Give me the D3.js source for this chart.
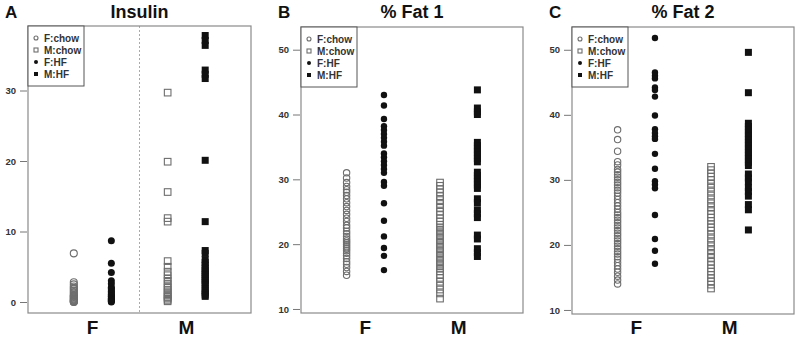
<!DOCTYPE html>
<html>
<head>
<meta charset="utf-8">
<script src="https://cdn.jsdelivr.net/npm/d3@7"></script>
<style>
  body { margin: 0; background: #fff; }
  svg { font-family: "Liberation Sans", Arial, sans-serif; font-weight: bold; }
</style>
</head>
<body>
<svg id="chart" width="800" height="340"></svg>
<script>
//Data
const groups = ["F:chow", "F:HF", "M:chow", "M:HF"];
const sexLabels = ["F", "M"];

const insulinFchow = [6.9, 2.8, 2.5, 2.2, 2.0, 1.8, 1.6, 1.4, 1.2, 1.0, 0.9, 0.8, 0.7, 0.6, 0.5, 0.4, 0.3, 0.2, 0.1, 0.1, 0.0, 0.0];
const insulinFHF = [8.7, 5.5, 4.2, 3.0, 2.6, 2.1, 1.9, 1.7, 1.5, 1.3, 1.1, 0.9, 0.8, 0.6, 0.5, 0.4, 0.3, 0.2, 0.1, 0.0];
const insulinMchow = [29.7, 19.9, 15.6, 11.9, 11.4, 5.8, 5.0, 4.3, 3.8, 3.3, 3.0, 2.6, 2.2, 2.0, 1.7, 1.4, 1.1, 0.9, 0.7, 0.5, 0.3, 0.1];
const insulinMHF = [37.8, 37.1, 36.4, 32.9, 32.3, 31.7, 20.1, 11.4, 7.3, 6.9, 6.0, 5.6, 5.2, 4.8, 4.5, 4.2, 3.9, 3.6, 3.3, 3.0, 2.7, 2.4, 1.9, 1.6, 1.3, 1.0, 0.8];

const fat1Fchow = [31.0, 30.2, 29.5, 28.9, 28.4, 28.0, 27.5, 27.0, 26.4, 25.8, 25.2, 24.6, 24.0, 23.5, 22.9, 22.5, 22.0, 21.6, 21.2, 20.8, 20.5, 20.2, 19.9, 19.6, 19.3, 19.0, 18.6, 18.2, 17.8, 17.3, 16.9, 16.4, 15.8, 15.2];
const fat1FHF = [43.0, 41.4, 39.3, 38.2, 37.6, 37.0, 36.4, 35.8, 35.2, 34.0, 33.4, 32.8, 32.2, 31.6, 31.0, 29.6, 29.0, 26.3, 23.6, 21.2, 19.4, 18.2, 16.0];
const fat1Mchow = [29.5, 29.0, 28.5, 28.0, 27.4, 26.8, 26.2, 25.6, 25.0, 24.5, 24.0, 23.5, 23.0, 22.6, 22.2, 21.8, 21.4, 21.0, 20.6, 20.2, 19.8, 19.4, 19.0, 18.6, 18.2, 17.8, 17.4, 17.0, 16.6, 16.2, 15.8, 15.3, 14.8, 14.2, 13.6, 13.0, 12.4, 11.6];
const fat1MHF = [43.8, 41.0, 40.4, 40.0, 35.7, 35.2, 34.7, 34.2, 33.7, 33.2, 32.7, 31.1, 30.6, 30.1, 29.6, 29.1, 28.6, 27.0, 26.4, 25.3, 24.7, 24.1, 21.4, 20.8, 19.3, 18.7, 18.1];

const fat2Fchow = [37.7, 36.2, 34.4, 32.8, 32.3, 31.6, 31.2, 30.8, 30.4, 30.0, 29.6, 29.2, 28.8, 28.4, 28.0, 27.5, 27.0, 26.5, 26.0, 25.5, 25.0, 24.6, 24.2, 23.8, 23.4, 23.0, 22.6, 22.2, 21.8, 21.4, 21.0, 20.6, 20.2, 19.8, 19.4, 19.0, 18.6, 18.2, 17.8, 17.3, 16.8, 16.3, 15.8, 15.2, 14.6, 14.0];
const fat2FHF = [51.8, 46.5, 46.0, 45.6, 44.2, 43.8, 42.8, 39.9, 37.8, 37.2, 36.7, 36.3, 34.0, 31.7, 29.8, 29.3, 28.7, 24.6, 20.9, 19.1, 17.1];
const fat2Mchow = [32.0, 31.5, 31.0, 30.5, 30.0, 29.4, 28.8, 28.2, 27.6, 27.0, 26.4, 25.8, 25.2, 24.7, 24.2, 23.7, 23.2, 22.7, 22.2, 21.6, 21.0, 20.4, 19.8, 19.2, 18.6, 18.0, 17.4, 16.9, 16.4, 15.9, 15.4, 14.9, 14.4, 13.9, 13.3];
const fat2MHF = [49.6, 43.4, 38.7, 38.2, 37.7, 37.2, 36.7, 36.2, 35.7, 35.2, 34.7, 34.2, 33.7, 33.2, 32.7, 32.2, 30.9, 30.3, 29.7, 28.8, 28.2, 27.5, 26.2, 25.4, 22.3];

const insulinTicks = [0, 10, 20, 30];
const fatTicks = [10, 20, 30, 40, 50];

//Layout (x positions of the 4 groups like R's at=c(1,2,3.5,4.5))
const groupAt = [1, 2, 3.5, 4.5];
const sexAt = [1.5, 4];
const xDomain = [-0.22, 5.72];

const panels = [
  { letter: "A", title: "Insulin", left: 28, right: 251, top: 26, bottom: 313, yDomain: [-1.56, 39.15], ticks: insulinTicks,
    series: [insulinFchow, insulinFHF, insulinMchow, insulinMHF], divider: true, r: 3.5 },
  { letter: "B", title: "% Fat 1", left: 301, right: 523, top: 27, bottom: 313, yDomain: [9.38, 53.5], ticks: fatTicks,
    series: [fat1Fchow, fat1FHF, fat1Mchow, fat1MHF], divider: false, r: 3.2 },
  { letter: "C", title: "% Fat 2", left: 572, right: 794, top: 27, bottom: 314, yDomain: [9.38, 53.5], ticks: fatTicks,
    series: [fat2Fchow, fat2FHF, fat2Mchow, fat2MHF], divider: false, r: 3.2 }
];

const chart = d3.select("#chart");
const openColor = "#6e6e6e";
const filledColor = "#111";

function drawMarker(sel, gi, x, y, r, sq){
  const isSquare = gi >= 2;
  const isFilled = gi % 2 === 1;
  if(isSquare){
    sel.append("rect")
       .attr("x", x - sq / 2).attr("y", y - sq / 2)
       .attr("width", sq).attr("height", sq)
       .attr("fill", isFilled ? filledColor : "none")
       .attr("stroke", isFilled ? "none" : openColor)
       .attr("stroke-width", 1.1);
  } else {
    sel.append("circle")
       .attr("cx", x).attr("cy", y).attr("r", r)
       .attr("fill", isFilled ? filledColor : "none")
       .attr("stroke", isFilled ? "none" : openColor)
       .attr("stroke-width", 1.1);
  }
}

panels.forEach(p => {
  const g = chart.append("g");

  const xScale = d3.scaleLinear().domain(xDomain).range([p.left, p.right]);
  const yScale = d3.scaleLinear().domain(p.yDomain).range([p.bottom, p.top]);

  //Divider between sexes
  if(p.divider){
    g.append("line")
     .attr("x1", xScale(2.75)).attr("x2", xScale(2.75))
     .attr("y1", p.top).attr("y2", p.bottom)
     .attr("stroke", "#aaa")
     .attr("stroke-dasharray", "2,2");
  }

  //Points
  p.series.forEach((vals, gi) => {
    const sq = gi === 3 ? 7 : 6.6;
    vals.forEach(v => drawMarker(g, gi, xScale(groupAt[gi]), yScale(v), p.r, sq));
  });

  //Box
  g.append("rect")
   .attr("x", p.left).attr("y", p.top)
   .attr("width", p.right - p.left).attr("height", p.bottom - p.top)
   .attr("fill", "none")
   .attr("stroke", "#8a8a8a")
   .attr("stroke-width", 1.2);

  //Y axis
  const yAxis = d3.axisLeft(yScale).tickValues(p.ticks).tickSize(7).tickPadding(4);
  const ax = g.append("g")
   .attr("transform", "translate(" + (p.left - 1) + ",0)")
   .call(yAxis);
  ax.select(".domain").remove();
  ax.selectAll(".tick line").attr("stroke", "#777");
  ax.selectAll(".tick text")
    .attr("fill", "#333")
    .style("font-size", "9.5px")
    .style("font-weight", "bold")
    .style("font-family", "'Liberation Sans', Arial, sans-serif");

  //X labels
  g.selectAll(".sex")
   .data(sexLabels)
   .enter()
   .append("text")
   .attr("x", (d, i) => xScale(sexAt[i]))
   .attr("y", 334)
   .attr("text-anchor", "middle")
   .attr("fill", "#111")
   .style("font-size", "19px")
   .text(d => d);

  //Title and letter
  g.append("text")
   .attr("x", (p.left + p.right) / 2)
   .attr("y", 18)
   .attr("text-anchor", "middle")
   .attr("fill", "#111")
   .style("font-size", "18px")
   .text(p.title);
  g.append("text")
   .attr("x", p.left - 23)
   .attr("y", 18)
   .attr("fill", "#111")
   .style("font-size", "17px")
   .text(p.letter);

  //Legend
  const lg = g.append("g").attr("transform", "translate(" + p.left + "," + p.top + ")");
  lg.append("rect")
    .attr("width", 56).attr("height", 60)
    .attr("fill", "#fff")
    .attr("stroke", "#555")
    .attr("stroke-width", 1);
  groups.forEach((name, i) => {
    const order = [0, 2, 1, 3][i];
    const yy = 12 + order * 12;
    drawMarker(lg, i, 8, yy, 2, 4);
    lg.append("text")
      .attr("x", 16).attr("y", yy + 3.5)
      .attr("fill", "#333")
      .style("font-size", "10px")
      .text(name);
  });
});
</script>
</body>
</html>
